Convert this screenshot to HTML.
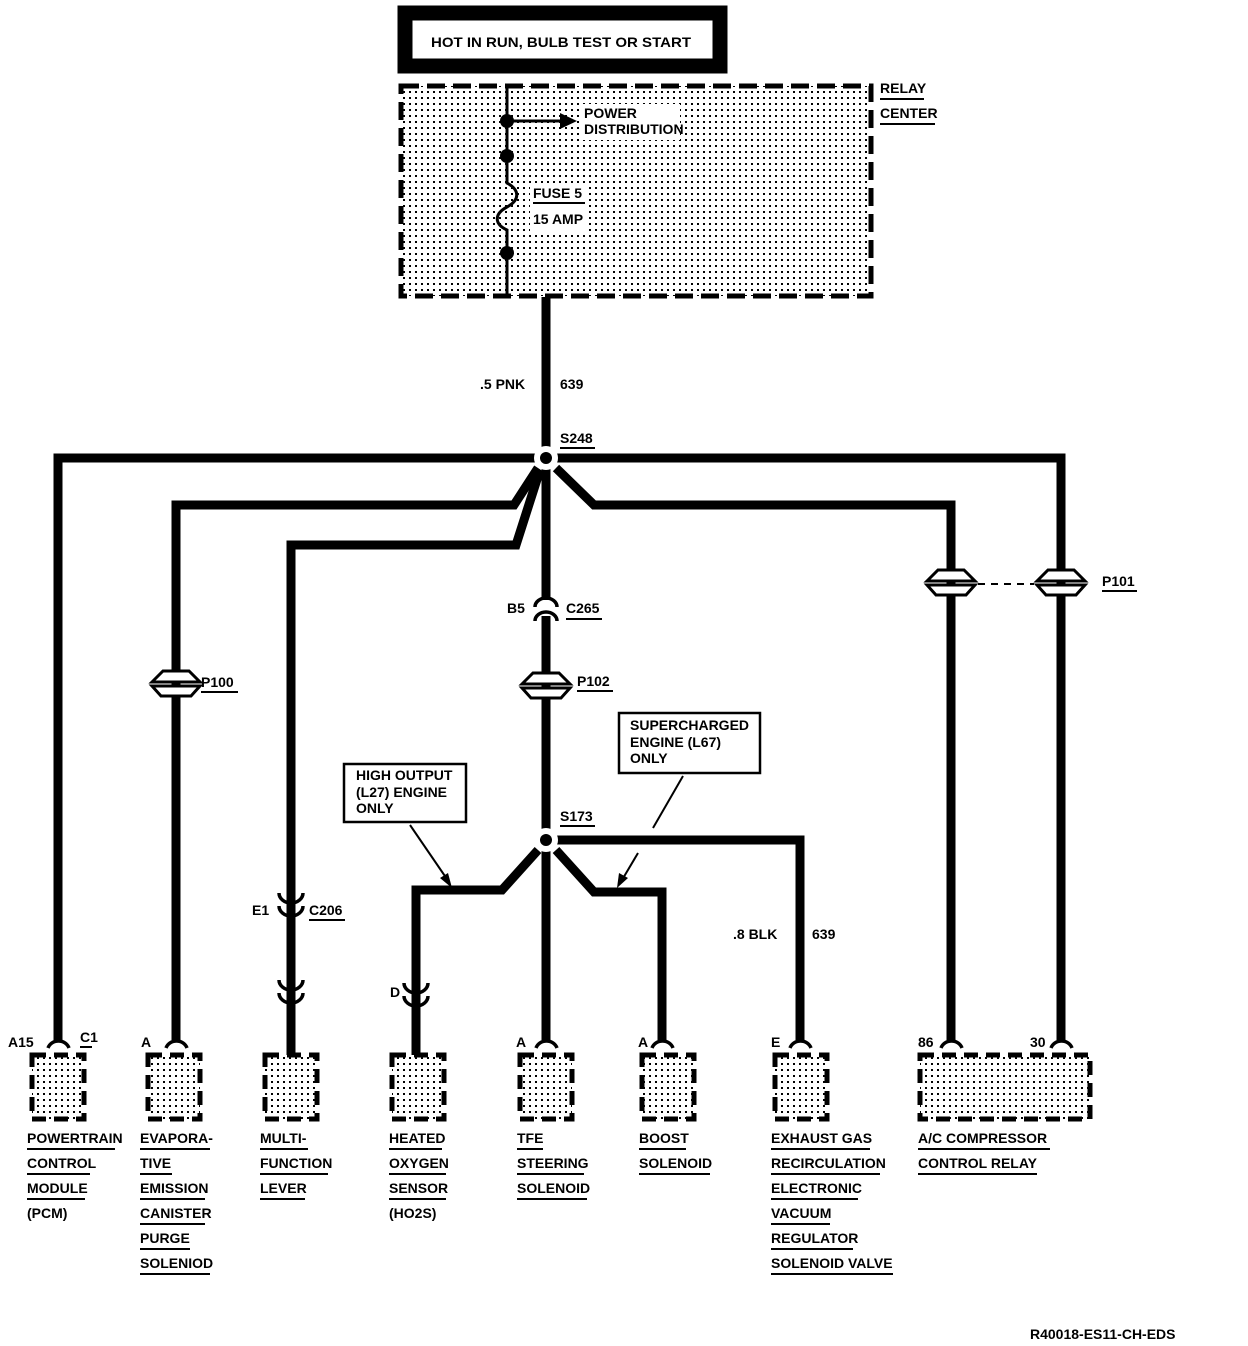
<!DOCTYPE html>
<html><head><meta charset="utf-8"><style>
html,body{margin:0;padding:0;background:#fff}
svg{display:block}
text{font-family:"Liberation Sans",sans-serif;font-weight:bold;font-size:14px;fill:#000}
</style></head><body>
<svg width="1248" height="1346" viewBox="0 0 1248 1346" xmlns="http://www.w3.org/2000/svg">
<defs>
<pattern id="dots" width="6" height="6" patternUnits="userSpaceOnUse"><rect x="1" y="1" width="2" height="2" fill="#000"/></pattern>
</defs>
<rect x="405" y="13" width="315" height="53" fill="#fff" stroke="#000" stroke-width="15"/>
<text x="431" y="47" textLength="260" lengthAdjust="spacingAndGlyphs">HOT IN RUN, BULB TEST OR START</text>
<rect x="401" y="86" width="470" height="210" fill="url(#dots)" stroke="#000" stroke-width="5" stroke-dasharray="18,8"/>
<rect x="580" y="104" width="100" height="36" fill="#fff"/>
<rect x="530" y="185" width="55" height="46" fill="#fff"/>
<text x="880" y="93">RELAY</text><line x1="880" y1="99" x2="924" y2="99" stroke="#000" stroke-width="2"/>
<text x="880" y="118">CENTER</text><line x1="880" y1="124" x2="935" y2="124" stroke="#000" stroke-width="2"/>
<path d="M507 84 V183 C520 190 520 200 507 207 C494 214 494 224 507 230 V297" fill="none" stroke="#000" stroke-width="3"/>
<circle cx="507" cy="121" r="7"/><circle cx="507" cy="156" r="7"/><circle cx="507" cy="253" r="7"/>
<line x1="507" y1="121" x2="562" y2="121" stroke="#000" stroke-width="3"/>
<polygon points="560,113 577,121 560,129"/>
<text x="584" y="118">POWER</text>
<text x="584" y="134">DISTRIBUTION</text>
<text x="533" y="198">FUSE 5</text><line x1="533" y1="203" x2="585" y2="203" stroke="#000" stroke-width="2"/>
<text x="533" y="224">15 AMP</text>
<g fill="none" stroke="#000" stroke-width="9" stroke-linejoin="miter">
<path d="M546 297 V1040"/>
<path d="M546 458 H58 V1042"/>
<path d="M546 458 H1061 V1040"/>
<path d="M538 468 L514 505 H176 V1040"/>
<path d="M540 470 L516 545 H291 V1055"/>
<path d="M556 468 L594 505 H951 V1040"/>
<path d="M538 850 L502 890 H416 V1055"/>
<path d="M556 850 L594 892 H662 V1040"/>
<path d="M546 840 H800 V1040"/>
</g>
<text x="480" y="389">.5 PNK</text><text x="560" y="389">639</text>
<text x="560" y="443">S248</text><line x1="560" y1="448" x2="595" y2="448" stroke="#000" stroke-width="2"/>
<circle cx="546" cy="458" r="12" fill="#fff"/><circle cx="546" cy="458" r="6"/>
<circle cx="546" cy="840" r="12" fill="#fff"/><circle cx="546" cy="840" r="6"/>
<text x="560" y="821">S173</text><line x1="560" y1="826" x2="595" y2="826" stroke="#000" stroke-width="2"/>
<rect x="535" y="600" width="22" height="16" fill="#fff"/>
<path d="M535 607 A11 9 0 0 1 557 607 M535 621 A11 9 0 0 1 557 621" fill="none" stroke="#000" stroke-width="3.5"/>
<text x="507" y="613">B5</text><text x="566" y="613">C265</text><line x1="566" y1="619" x2="602" y2="619" stroke="#000" stroke-width="2"/>
<g fill="#fff" stroke="#000" stroke-width="3">
<path d="M522 684 L533 673 H559 L570 684 Z M522 688 L531 698 H561 L570 688 Z"/>
<path d="M152 682 L163 671 H189 L200 682 Z M152 686 L161 696 H191 L200 686 Z"/>
<path d="M927 581 L938 570 H964 L975 581 Z M927 585 L936 595 H966 L975 585 Z"/>
<path d="M1037 581 L1048 570 H1074 L1085 581 Z M1037 585 L1046 595 H1076 L1085 585 Z"/>
</g>
<line x1="978" y1="584" x2="1034" y2="584" stroke="#000" stroke-width="2" stroke-dasharray="7,6"/>
<text x="577" y="686">P102</text><line x1="577" y1="691" x2="613" y2="691" stroke="#000" stroke-width="2"/>
<text x="201" y="687">P100</text><line x1="201" y1="692" x2="238" y2="692" stroke="#000" stroke-width="2"/>
<text x="1102" y="586">P101</text><line x1="1102" y1="591" x2="1137" y2="591" stroke="#000" stroke-width="2"/>
<g fill="none" stroke="#000" stroke-width="3.5">
<path d="M279 893 A12 10 0 0 0 303 893 M279 906 A12 10 0 0 0 303 906"/>
<path d="M279 980 A12 10 0 0 0 303 980 M279 993 A12 10 0 0 0 303 993"/>
<path d="M404 983 A12 10 0 0 0 428 983 M404 996 A12 10 0 0 0 428 996"/>
</g>
<text x="252" y="915">E1</text><text x="309" y="915">C206</text><line x1="309" y1="920" x2="345" y2="920" stroke="#000" stroke-width="2"/>
<text x="390" y="997">D</text>
<rect x="344" y="764" width="122" height="58" fill="#fff" stroke="#000" stroke-width="2.5"/>
<text x="356" y="780" font-size="13">HIGH OUTPUT</text><text x="356" y="797" font-size="13">(L27) ENGINE</text><text x="356" y="813" font-size="13">ONLY</text>
<line x1="410" y1="825" x2="449" y2="882" stroke="#000" stroke-width="2"/>
<polygon points="452,888 440,878 448,873"/>
<rect x="619" y="713" width="141" height="60" fill="#fff" stroke="#000" stroke-width="2.5"/>
<text x="630" y="730" font-size="13">SUPERCHARGED</text><text x="630" y="747" font-size="13">ENGINE (L67)</text><text x="630" y="763" font-size="13">ONLY</text>
<line x1="683" y1="776" x2="653" y2="828" stroke="#000" stroke-width="2"/>
<line x1="638" y1="853" x2="622" y2="880" stroke="#000" stroke-width="2"/>
<polygon points="617,888 619,873 628,878"/>
<text x="733" y="939">.8 BLK</text><text x="812" y="939">639</text>
<g fill="none" stroke="#000" stroke-width="3.5">
<path d="M48 1048 A11 10 0 0 1 69 1048"/>
<path d="M166 1048 A11 10 0 0 1 187 1048"/>
<path d="M536 1048 A11 10 0 0 1 557 1048"/>
<path d="M652 1048 A11 10 0 0 1 673 1048"/>
<path d="M790 1048 A11 10 0 0 1 811 1048"/>
<path d="M941 1048 A11 10 0 0 1 962 1048"/>
<path d="M1051 1048 A11 10 0 0 1 1072 1048"/>
</g>
<text x="8" y="1047">A15</text><text x="80" y="1042">C1</text><line x1="80" y1="1047" x2="92" y2="1047" stroke="#000" stroke-width="2"/>
<text x="141" y="1047">A</text><text x="516" y="1047">A</text><text x="638" y="1047">A</text><text x="771" y="1047">E</text>
<text x="918" y="1047">86</text><text x="1030" y="1047">30</text>
<g fill="url(#dots)" stroke="#000" stroke-width="5" stroke-dasharray="14,8">
<rect x="32" y="1055" width="52" height="64"/>
<rect x="148" y="1055" width="52" height="64"/>
<rect x="265" y="1055" width="52" height="64"/>
<rect x="392" y="1055" width="52" height="64"/>
<rect x="520" y="1055" width="52" height="64"/>
<rect x="642" y="1055" width="52" height="64"/>
<rect x="775" y="1055" width="52" height="64"/>
<rect x="920" y="1055" width="170" height="64"/>
</g>
<g>
<text x="27" y="1143">POWERTRAIN</text><text x="27" y="1168">CONTROL</text><text x="27" y="1193">MODULE</text><text x="27" y="1218">(PCM)</text>
<text x="140" y="1143">EVAPORA-</text><text x="140" y="1168">TIVE</text><text x="140" y="1193">EMISSION</text><text x="140" y="1218">CANISTER</text><text x="140" y="1243">PURGE</text><text x="140" y="1268">SOLENIOD</text>
<text x="260" y="1143">MULTI-</text><text x="260" y="1168">FUNCTION</text><text x="260" y="1193">LEVER</text>
<text x="389" y="1143">HEATED</text><text x="389" y="1168">OXYGEN</text><text x="389" y="1193">SENSOR</text><text x="389" y="1218">(HO2S)</text>
<text x="517" y="1143">TFE</text><text x="517" y="1168">STEERING</text><text x="517" y="1193">SOLENOID</text>
<text x="639" y="1143">BOOST</text><text x="639" y="1168">SOLENOID</text>
<text x="771" y="1143">EXHAUST GAS</text><text x="771" y="1168">RECIRCULATION</text><text x="771" y="1193">ELECTRONIC</text><text x="771" y="1218">VACUUM</text><text x="771" y="1243">REGULATOR</text><text x="771" y="1268">SOLENOID VALVE</text>
<text x="918" y="1143">A/C COMPRESSOR</text><text x="918" y="1168">CONTROL RELAY</text>
</g>
<g stroke="#000" stroke-width="2">
<line x1="27" y1="1149" x2="115" y2="1149"/><line x1="27" y1="1174" x2="90" y2="1174"/><line x1="27" y1="1199" x2="85" y2="1199"/>
<line x1="140" y1="1149" x2="210" y2="1149"/><line x1="140" y1="1174" x2="172" y2="1174"/><line x1="140" y1="1199" x2="205" y2="1199"/><line x1="140" y1="1224" x2="205" y2="1224"/><line x1="140" y1="1249" x2="190" y2="1249"/><line x1="140" y1="1274" x2="210" y2="1274"/>
<line x1="260" y1="1149" x2="308" y2="1149"/><line x1="260" y1="1174" x2="328" y2="1174"/><line x1="260" y1="1199" x2="305" y2="1199"/>
<line x1="389" y1="1149" x2="442" y2="1149"/><line x1="389" y1="1174" x2="446" y2="1174"/><line x1="389" y1="1199" x2="446" y2="1199"/>
<line x1="517" y1="1149" x2="543" y2="1149"/><line x1="517" y1="1174" x2="584" y2="1174"/><line x1="517" y1="1199" x2="587" y2="1199"/>
<line x1="639" y1="1149" x2="686" y2="1149"/><line x1="639" y1="1174" x2="710" y2="1174"/>
<line x1="771" y1="1149" x2="870" y2="1149"/><line x1="771" y1="1174" x2="880" y2="1174"/><line x1="771" y1="1199" x2="858" y2="1199"/><line x1="771" y1="1224" x2="830" y2="1224"/><line x1="771" y1="1249" x2="853" y2="1249"/><line x1="771" y1="1274" x2="893" y2="1274"/>
<line x1="918" y1="1149" x2="1050" y2="1149"/><line x1="918" y1="1174" x2="1037" y2="1174"/>
</g>
<text x="1030" y="1339">R40018-ES11-CH-EDS</text>
</svg>
</body></html>
